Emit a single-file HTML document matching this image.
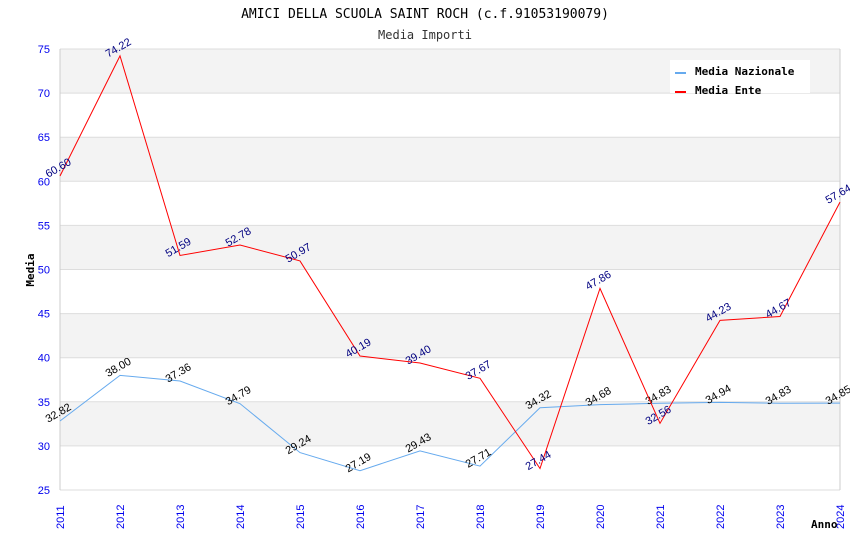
<!DOCTYPE html>
<html><head><meta charset="utf-8"><style>
body{margin:0;background:#fff;}
svg{display:block;font-family:"DejaVu Sans Mono","Liberation Mono",monospace;}
</style></head><body>
<svg id="c" width="850" height="550"></svg>
<script>
const years=[2011,2012,2013,2014,2015,2016,2017,2018,2019,2020,2021,2022,2023,2024];
const nazionale=[32.82,38.00,37.36,34.79,29.24,27.19,29.43,27.71,34.32,34.68,34.83,34.94,34.83,34.85];
const ente=[60.60,74.22,51.59,52.78,50.97,40.19,39.40,37.67,27.44,47.86,32.56,44.23,44.67,57.64];
const yTicks=[25,30,35,40,45,50,55,60,65,70,75];
const NS="http://www.w3.org/2000/svg";
const svg=document.getElementById('c');
const L=60,R=840,T=49,B=490,ymin=25,ymax=75;
const x=i=>L+(R-L)*i/(years.length-1);
const y=v=>B-(B-T)*(v-ymin)/(ymax-ymin);
function el(t,a,p){const e=document.createElementNS(NS,t);for(const k in a)e.setAttribute(k,a[k]);(p||svg).appendChild(e);return e;}
for(let i=0;i<yTicks.length-1;i++){
  const a=yTicks[i],b=yTicks[i+1];
  const r=el('rect',{x:L,y:y(b),width:R-L,height:y(a)-y(b),fill:((yTicks.length-2-i)%2===0)?'#f3f3f3':'#ffffff'});
  
  
}
yTicks.forEach(v=>{
  const g=el('line',{x1:L,x2:R,y1:y(v),y2:y(v),stroke:'#dddddd','stroke-width':1});
  
  
  const t=el('text',{x:L-10,y:y(v)+4,'text-anchor':'end','font-size':11,fill:'#0000ee','font-family':'Liberation Sans, sans-serif'});
  t.textContent=v;
  
  
});
el('line',{x1:L,x2:L,y1:T,y2:B,stroke:'#cccccc'});
el('line',{x1:R,x2:R,y1:T,y2:B,stroke:'#cccccc'});
years.forEach((yr,i)=>{
  const t=el('text',{x:0,y:0,transform:`translate(${x(i)+4},${B+39}) rotate(-90)`,'font-size':11,fill:'#0000ee','font-family':'Liberation Sans, sans-serif'});
  t.textContent=yr;
  
  
});
function series(vals,color,labColor,name){
  const p=el('polyline',{points:vals.map((v,i)=>x(i)+','+y(v)).join(' '),fill:'none',stroke:color,'stroke-width':1});
  
  
  vals.forEach((v,i)=>{
    const t=el('text',{x:0,y:0,transform:`translate(${x(i)},${y(v)-5}) rotate(-30)`,'text-anchor':'middle','font-size':11,fill:labColor,'font-family':'Liberation Sans, sans-serif'});
    t.textContent=v.toFixed(2);
    
    
  });
}
series(nazionale,'#66aaee','#000000','nazionale');
series(ente,'#ff0000','#000080','ente');
const lg=el('g',{});


el('rect',{x:670,y:60,width:140,height:33,fill:'#ffffff'},lg);
el('line',{x1:675,x2:686,y1:73,y2:73,stroke:'#66aaee','stroke-width':2},lg);
el('line',{x1:675,x2:686,y1:92,y2:92,stroke:'#ff0000','stroke-width':2},lg);
const t1=el('text',{x:695,y:75,'font-size':11,'font-weight':'bold'},lg);t1.textContent='Media Nazionale';


const t2=el('text',{x:695,y:94,'font-size':11,'font-weight':'bold'},lg);t2.textContent='Media Ente';


const tt=el('text',{x:425,y:18,'text-anchor':'middle','font-size':13});tt.textContent='AMICI DELLA SCUOLA SAINT ROCH (c.f.91053190079)';


const st=el('text',{x:425,y:39,'text-anchor':'middle','font-size':12,fill:'#333'});st.textContent='Media Importi';


const yt=el('text',{x:0,y:0,transform:'translate(34,270) rotate(-90)','text-anchor':'middle','font-size':11,'font-weight':'bold'});yt.textContent='Media';


const xt=el('text',{x:811,y:528,'font-size':11,'font-weight':'bold'});xt.textContent='Anno';


</script>
</body></html>
